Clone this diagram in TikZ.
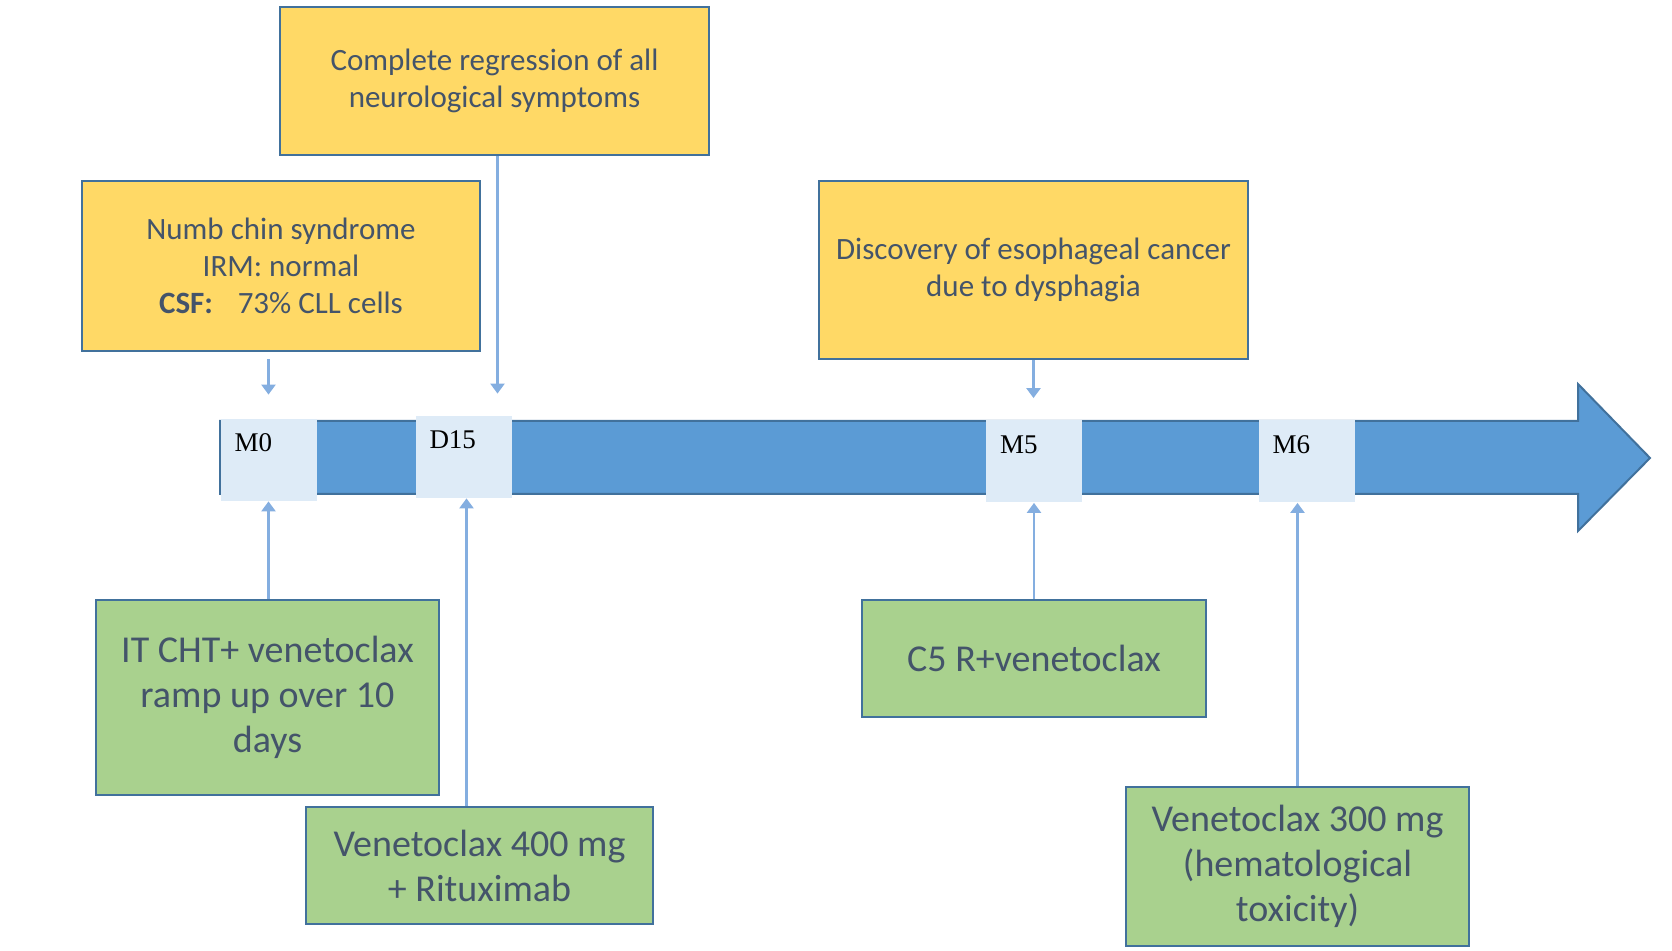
\documentclass[tikz,border=0pt]{standalone}
\usepackage{fontspec}
\setmainfont{Carlito}
\newfontfamily\tickfont{Liberation Serif}
\usetikzlibrary{arrows.meta}
\definecolor{eventyellow}{RGB}{255,217,102}
\definecolor{treatgreen}{RGB}{169,209,142}
\definecolor{boxedge}{RGB}{65,113,156}
\definecolor{barblue}{RGB}{91,155,213}
\definecolor{tickfill}{RGB}{222,235,247}
\definecolor{connblue}{RGB}{132,174,224}
\definecolor{textslate}{RGB}{68,84,106}

\tikzset{
  event/.style={draw=boxedge, line width=1.3pt, fill=eventyellow, text=textslate,
    align=center, font=\fontsize{15.5}{18.5}\selectfont},
  treat/.style={draw=boxedge, line width=1.3pt, fill=treatgreen, text=textslate,
    align=center, font=\fontsize{19}{22.5}\selectfont},
  tick/.style={fill=tickfill, inner xsep=7pt, inner ysep=6pt, text width=34pt,
    align=left, text height=10.5pt, text depth=18.5pt,
    font=\tickfont\fontsize{13.5}{15}\selectfont},
  conn/.style={draw=connblue, line width=1.2pt, -{Triangle[width=7pt,length=5pt]}}
}

\begin{document}
\begin{tikzpicture}[x=0.5pt, y=-0.5pt]
    \useasboundingbox (0,0) rectangle (1672,951);

    % Time line
    \draw[fill=barblue, draw=boxedge, line width=1pt]
        (220,421) -- (1578,421) -- (1578,384) -- (1650,458)
        -- (1578,531) -- (1578,494) -- (220,494) -- cycle;

    % Time points
    \node[tick] (m0) at (268.5,460) {M0};
    \node[tick] (d15) at (463.5,457) {D15};
    \node[tick] (m5) at (1034,461.5) {M5};
    \node[tick] (m6) at (1306.5,461.5) {M6};

    % Events (above)
    \node[event, minimum width=214.5pt, minimum height=74pt] (regr) at (494.5,81)
        {Complete regression of all\\neurological symptoms};
    \node[event, minimum width=199pt, minimum height=85pt] (numb) at (281,266)
        {Numb chin syndrome\\IRM: normal\\\textbf{CSF:}\hspace{0.8em}73\% CLL cells};
    \node[event, minimum width=214.5pt, minimum height=89pt] (esoph) at (1033.5,270)
        {Discovery of esophageal cancer\\due to dysphagia};

    % Treatments (below)
    \node[treat, minimum width=171.5pt, minimum height=97.5pt] (itcht) at (267.5,697.5)
        {IT CHT+ venetoclax\\ramp up over 10\\days};
    \node[treat, minimum width=173.5pt, minimum height=58.5pt] (ven400) at (479.5,865.5)
        {Venetoclax 400 mg\\+ Rituximab};
    \node[treat, minimum width=172pt, minimum height=58.5pt] (cfive) at (1034,658.5)
        {C5 R+venetoclax};
    \node[treat, minimum width=171.5pt, minimum height=79.5pt] (ven300) at (1297.5,866.5)
        {Venetoclax 300 mg\\(hematological\\toxicity)};

    % Connectors
    \draw[conn, shorten <=3.5pt, shorten >=12pt] (numb.south -| m0) -- (m0.north);
    \draw[conn, shorten >=11pt] ([xshift=1.5pt]regr.south) -- ([xshift=1.5pt]regr.south |- d15.north);
    \draw[conn, shorten >=11pt] (esoph.south) -- (esoph.south |- m5.north);
    \draw[conn] (itcht.north -| m0) -- (m0.south);
    \draw[conn] ([xshift=1.5pt]ven400.north -| d15) -- ([xshift=1.5pt]d15.south);
    \draw[conn] (cfive.north) -- (cfive.north |- m5.south);
    \draw[conn] (ven300.north) -- (ven300.north |- m6.south);
\end{tikzpicture}
\end{document}
